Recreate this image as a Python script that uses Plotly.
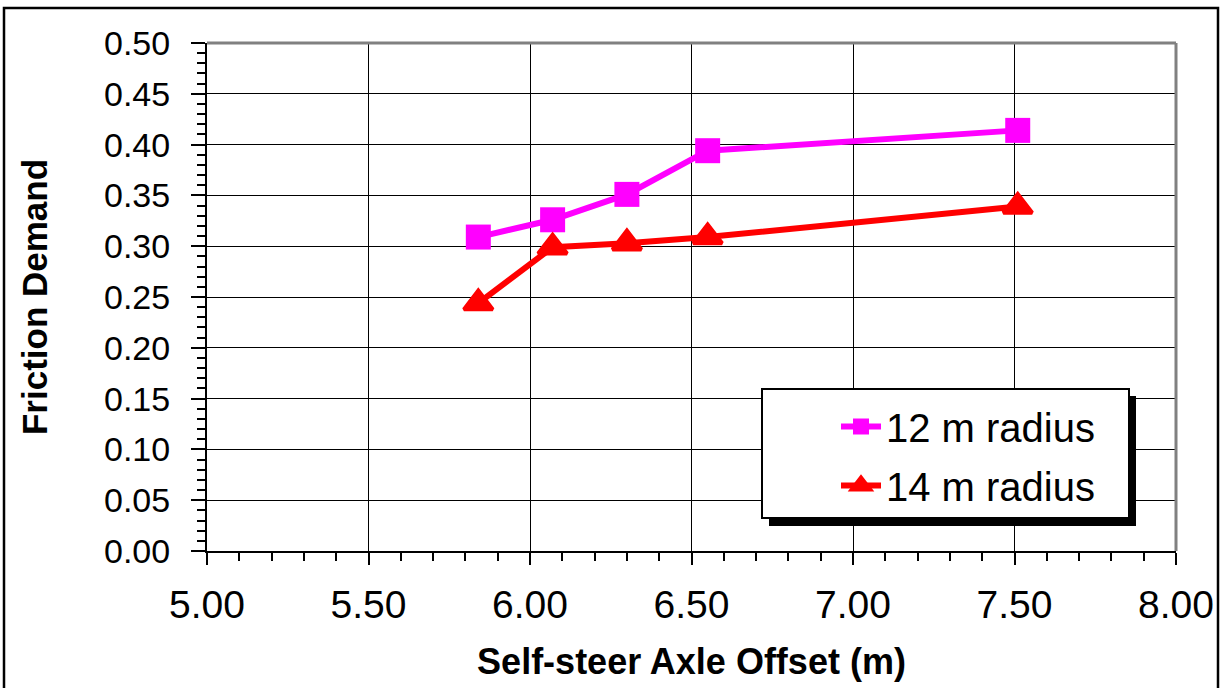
import plotly.graph_objects as go

offset = [5.84, 6.07, 6.30, 6.55, 7.51]
r12 = [0.309, 0.326, 0.351, 0.394, 0.414]
r14 = [0.244, 0.299, 0.303, 0.309, 0.339]

FONT = "Arial, Liberation Sans, sans-serif"
W, H = 1225, 688
L, R, T, B = 207, 49, 43, 137
pw, ph = W - L - R, H - T - B

def px(x):
    return (x - L) / pw

def py(y):
    return (H - B - y) / ph

fig = go.Figure()
fig.add_trace(go.Scatter(x=offset, y=r12, name="12 m radius", mode="lines+markers",
                         legendgroup="a",
                         line=dict(color="#FF00FF", width=6),
                         marker=dict(symbol="square", size=25, color="#FF00FF")))
fig.add_trace(go.Scatter(x=offset, y=r14, name="14 m radius", mode="lines+markers",
                         legendgroup="b",
                         line=dict(color="#FF0000", width=6),
                         marker=dict(symbol="triangle-up", size=25, color="#FF0000",
                                     line=dict(color="#FF0000", width=4))))

axis_common = dict(showline=True, linecolor="black", linewidth=2, mirror=False,
                   showgrid=True, gridcolor="black", gridwidth=1, zeroline=False,
                   ticks="outside", tickcolor="black", tickwidth=2)

fig.update_xaxes(range=[5, 8], dtick=0.5, tickformat=".2f", ticklen=12,
                 tickfont=dict(family=FONT, size=39, color="black"),
                 ticklabelstandoff=6,
                 minor=dict(dtick=0.1, ticks="outside", ticklen=8, tickcolor="black",
                            tickwidth=2, showgrid=False),
                 title=dict(text="<b>Self-steer Axle Offset (m)</b>",
                            font=dict(family=FONT, size=36, color="black"), standoff=24),
                 **axis_common)
fig.update_yaxes(range=[0, 0.5], dtick=0.05, tickformat=".2f", ticklen=14,
                 tickfont=dict(family=FONT, size=34, color="black"),
                 ticklabelstandoff=14,
                 minor=dict(dtick=0.01, ticks="outside", ticklen=8, tickcolor="black",
                            tickwidth=2, showgrid=False),
                 title=dict(text="<b>Friction Demand</b>",
                            font=dict(family=FONT, size=35, color="black"), standoff=46),
                 **axis_common)

shapes = [
    # plot area top/right gray border
    dict(type="line", xref="paper", yref="paper", x0=0, x1=1, y0=1, y1=1,
         line=dict(color="#808080", width=3)),
    dict(type="line", xref="paper", yref="paper", x0=1, x1=1, y0=0, y1=1,
         line=dict(color="#808080", width=3)),
    # legend shadow
    dict(type="rect", xref="paper", yref="paper", x0=px(769), x1=px(1136),
         y0=py(526), y1=py(396), fillcolor="black", line=dict(width=0), layer="above"),
    # legend box
    dict(type="rect", xref="paper", yref="paper", x0=px(762), x1=px(1129),
         y0=py(518), y1=py(389), fillcolor="white", line=dict(color="black", width=2),
         layer="above"),
    # outer frame
    dict(type="rect", xref="paper", yref="paper", x0=px(4), x1=px(1218),
         y0=py(700), y1=py(8), line=dict(color="black", width=2.5)),
]

fig.update_layout(
    width=W, height=H,
    margin=dict(l=L, r=R, t=T, b=B),
    paper_bgcolor="white", plot_bgcolor="white",
    font=dict(family=FONT, color="black"),
    shapes=shapes,
    legend=dict(x=px(836), y=py(394), xanchor="left", yanchor="top",
                bgcolor="rgba(0,0,0,0)", borderwidth=0,
                font=dict(family=FONT, size=40, color="black"),
                itemwidth=40, tracegroupgap=4, traceorder="grouped"),
)

fig.write_html("out.html", config={"displayModeBar": False},
               post_script="document.body.style.margin='0';document.body.style.overflow='hidden';")
